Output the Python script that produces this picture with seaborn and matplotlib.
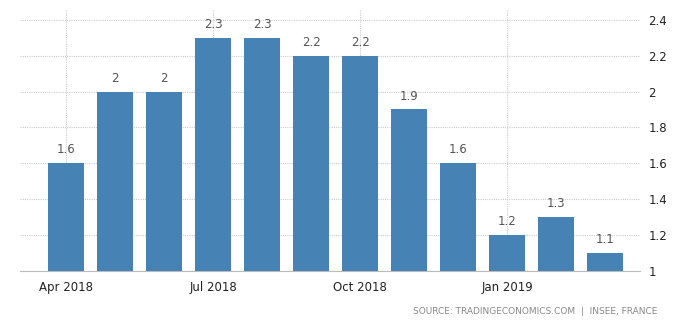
import matplotlib
matplotlib.use("Agg")
import matplotlib.pyplot as plt
import seaborn as sns
import pandas as pd

months = ["Apr 2018", "May 2018", "Jun 2018", "Jul 2018", "Aug 2018", "Sep 2018",
          "Oct 2018", "Nov 2018", "Dec 2018", "Jan 2019", "Feb 2019", "Mar 2019"]
values = [1.6, 2.0, 2.0, 2.3, 2.3, 2.2, 2.2, 1.9, 1.6, 1.2, 1.3, 1.1]
value_labels = ["1.6", "2", "2", "2.3", "2.3", "2.2", "2.2", "1.9", "1.6", "1.2", "1.3", "1.1"]
tick_months = ["Apr 2018", "Jul 2018", "Oct 2018", "Jan 2019"]
y_ticks = [1, 1.2, 1.4, 1.6, 1.8, 2, 2.2, 2.4]
y_tick_labels = ["1", "1.2", "1.4", "1.6", "1.8", "2", "2.2", "2.4"]

sns.set_style("white")
plt.rcParams['font.family'] = ['DejaVu Sans']

df = pd.DataFrame({"month": months, "value": values})

fig = plt.figure(figsize=(7, 3.26), dpi=100)
ax = fig.add_axes([20/700, 55/326, 620/700, 261/326])

sns.barplot(data=df, x="month", y="value", color="#4682B4", saturation=1,
            width=0.74, ax=ax, zorder=3, linewidth=0, edgecolor="none")

ax.set_ylim(1.0, 1.0 + 261/179.5)
ax.set_xlim(-0.94, 11.71)

ax.yaxis.tick_right()
ax.set_yticks(y_ticks)
ax.set_yticklabels(y_tick_labels)
pos = [months.index(m) for m in tick_months]
ax.set_xticks(pos)
ax.set_xticklabels(tick_months)

ax.tick_params(axis='y', length=0, pad=6, labelsize=8.5, labelcolor="#222222")
ax.tick_params(axis='x', length=3, color="#cccccc", pad=4, labelsize=8.5, labelcolor="#222222")

ax.grid(True, axis='both', linestyle=(0, (1, 1)), color="#cccccc", linewidth=0.8, zorder=0)
ax.set_axisbelow(True)
for s in ["top", "left", "right"]:
    ax.spines[s].set_visible(False)
ax.spines["bottom"].set_linestyle((0, (1, 1)))
ax.spines["bottom"].set_color("#bbbbbb")
ax.spines["bottom"].set_linewidth(0.8)
ax.set_xlabel("")
ax.set_ylabel("")

for i, (v, t) in enumerate(zip(values, value_labels)):
    ax.annotate(t, (i, v), xytext=(0, 5), textcoords="offset points",
                ha="center", va="bottom", fontsize=8.5, color="#555555")

fig.text(657/700, 1 - 311/326, "SOURCE: TRADINGECONOMICS.COM  |  INSEE, FRANCE",
         ha="right", va="center", fontsize=6.5, color="#888888")

fig.savefig("out.png", dpi=100)
